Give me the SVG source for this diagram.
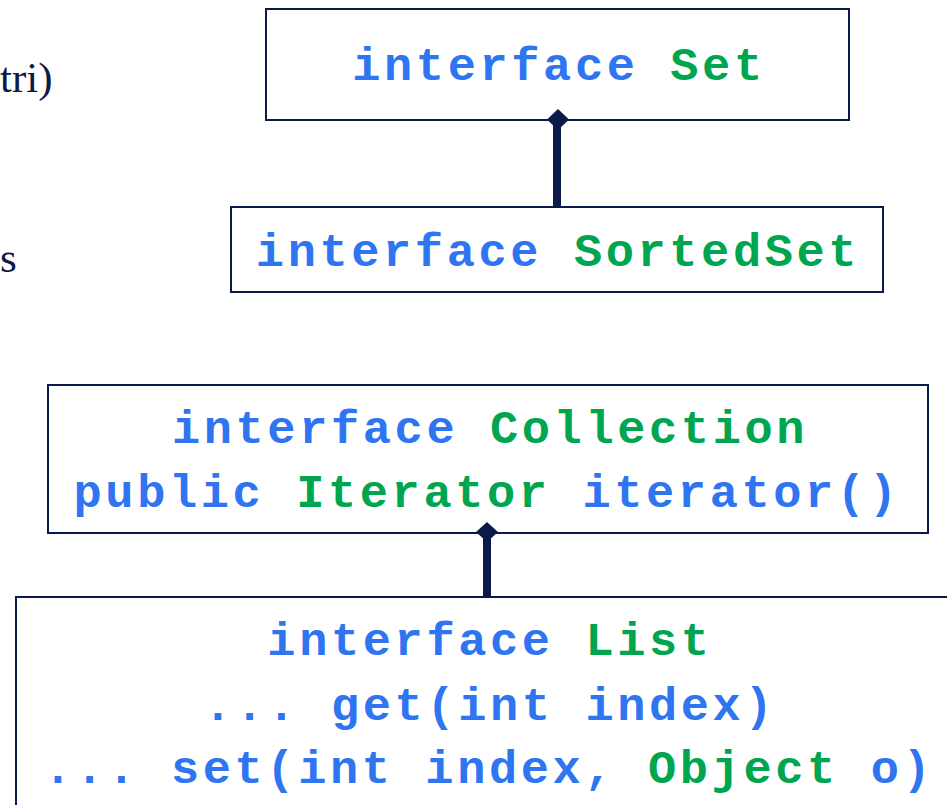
<svg xmlns="http://www.w3.org/2000/svg" width="947" height="805" viewBox="0 0 947 805">
<style>
.box{fill:#fff;stroke:#0b1a48;stroke-width:2}
.code{font-family:"Liberation Mono","Courier New",monospace;font-weight:bold;font-size:47px;letter-spacing:3.6px;text-anchor:middle;fill:#2f74f0}
.g{fill:#00a550}
.side{font-family:"Liberation Serif","Times New Roman",serif;font-size:43px;fill:#0b1a48}
.conn{stroke:#0b1a48;stroke-width:8;fill:none}
.dia{fill:#0b1a48}
</style>
<rect width="947" height="805" fill="#fff"/>
<text class="side" x="0" y="92">tri)</text>
<text class="side" x="0" y="272">s</text>
<g id="set">
<rect class="box" x="266" y="9" width="583" height="111"/>
<text class="code" x="559" y="80">interface <tspan class="g">Set</tspan></text>
</g>
<g id="sortedset">
<rect class="box" x="231" y="207" width="652" height="85"/>
<text class="code" x="558" y="266">interface <tspan class="g">SortedSet</tspan></text>
</g>
<g id="collection">
<rect class="box" x="48" y="385" width="880" height="148"/>
<text class="code" x="490" y="443">interface <tspan class="g">Collection</tspan></text>
<text class="code" x="487" y="507">public <tspan class="g">Iterator</tspan> iterator()</text>
</g>
<g id="list">
<rect class="box" x="16" y="597" width="960" height="240"/>
<text class="code" x="490" y="655">interface <tspan class="g">List</tspan></text>
<text class="code" x="490" y="720">... get(int index)</text>
<text class="code" x="489" y="783">... set(int index, <tspan class="g">Object</tspan> o)</text>
</g>
<g id="connectors">
<line class="conn" x1="557" y1="125" x2="557" y2="207"/>
<polygon class="dia" points="558,109 569,119.5 558,130 547,119.5"/>
<line class="conn" x1="487" y1="537" x2="487" y2="597"/>
<polygon class="dia" points="487,522 498,532 487,542 476,532"/>
</g>
</svg>
